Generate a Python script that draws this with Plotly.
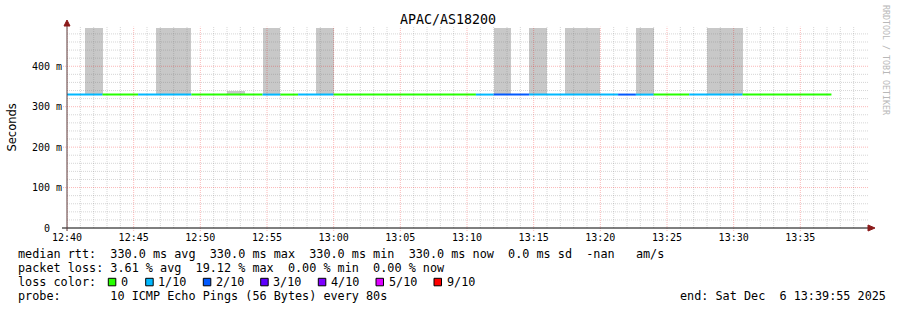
from datetime import datetime, timedelta
import plotly.graph_objects as go

# ---------------- data ----------------
START = "2025-12-06 12:40:00"
SPAN_SECONDS = 3600
STEP_SECONDS = 80

median_rtt_ms = [330.0, 330.0, 330.0, 330.0, 330.0, 330.0, 330.0, 330.0, 330.0, 330.0,
                 330.0, 330.0, 330.0, 330.0, 330.0, 330.0, 330.0, 330.0, 330.0, 330.0,
                 330.0, 330.0, 330.0, 330.0, 330.0, 330.0, 330.0, 330.0, 330.0, 330.0,
                 330.0, 330.0, 330.0, 330.0, 330.0, 330.0, 330.0, 330.0, 330.0, 330.0,
                 330.0, 330.0, 330.0]
loss_of_10 = [1, 1, 0, 0, 1, 1, 1, 0, 0, 0,
              0, 1, 0, 1, 1, 0, 0, 0, 0, 0,
              0, 0, 0, 1, 2, 2, 1, 1, 1, 1,
              1, 2, 1, 0, 0, 1, 1, 1, 0, 0,
              0, 0, 0]
smoke_min_ms = [None, 330, None, None, None, 330, 330, None, None, 330,
                None, 330, None, None, 330, None, None, None, None, None,
                None, None, None, None, 330, None, 330, None, 330, 330,
                None, None, 330, None, None, None, 330, 330, None, None,
                None, None, None]
smoke_max_ms = [None, 500, None, None, None, 500, 500, None, None, 340,
                None, 500, None, None, 500, None, None, None, None, None,
                None, None, None, None, 500, None, 500, None, 500, 500,
                None, None, 500, None, None, None, 500, 500, None, None,
                None, None, None]

x_tick_labels = ["12:40", "12:45", "12:50", "12:55", "13:00", "13:05",
                 "13:10", "13:15", "13:20", "13:25", "13:30", "13:35"]
y_tick_values = [0, 100, 200, 300, 400]
y_tick_labels = ["0\u00a0\u00a0", "100 m", "200 m", "300 m", "400 m"]

loss_thresholds = [0, 1, 2, 3, 4, 5, 9]
loss_labels = ["0", "1/10", "2/10", "3/10", "4/10", "5/10", "9/10"]
loss_colors = ["#26ff00", "#00b8ff", "#0059ff", "#5e00ff", "#7e00ff", "#dd00ff", "#ff0000"]

title_text = "APAC/AS18200"
stat_rtt = "median rtt:  330.0 ms avg  330.0 ms max  330.0 ms min  330.0 ms now  0.0 ms sd  -nan   am/s"
stat_loss = "packet loss: 3.61 % avg  19.12 % max  0.00 % min  0.00 % now"
loss_caption = "loss color:"
probe_text = "probe:       10 ICMP Echo Pings (56 Bytes) every 80s"
end_text = "end: Sat Dec  6 13:39:55 2025"
watermark = "RRDTOOL / TOBI OETIKER"

# ---------------- geometry / style ----------------
W, H = 897, 310
L, T, PW, PH = 67, 28, 800, 200
Y_MAX = 494.6
MONO = "DejaVu Sans Mono"
SMOKE = "#c8c8c8"
GRID = "rgba(120,120,120,0.3)"
MGRID = "rgba(240,0,0,0.28)"


def px(x):
    return (x - L) / PW


def py(y):
    return (T + PH - y) / PH


def nb(s):
    return s.replace(" ", "\u00a0")


t0 = datetime.strptime(START, "%Y-%m-%d %H:%M:%S")
t_end = t0 + timedelta(seconds=SPAN_SECONDS)
step_starts = [t0 + timedelta(seconds=STEP_SECONDS * i) for i in range(len(median_rtt_ms))]


def loss_color(n):
    c = loss_colors[0]
    for th, col in zip(loss_thresholds, loss_colors):
        if n >= th:
            c = col
    return c


fig = go.Figure()

# smoke
sx, sy, sb = [], [], []
for i, (lo, hi) in enumerate(zip(smoke_min_ms, smoke_max_ms)):
    if lo is not None:
        sx.append(step_starts[i])
        sb.append(lo)
        sy.append(hi - lo)
fig.add_trace(go.Bar(x=sx, y=sy, base=sb, width=STEP_SECONDS * 1000, offset=0,
                     marker=dict(color=SMOKE, line=dict(width=0)), showlegend=False,
                     hoverinfo="skip"))

# median line coloured by loss, one trace per run
runs = []
for i, v in enumerate(median_rtt_ms):
    col = loss_color(loss_of_10[i])
    if runs and runs[-1][0] == col and runs[-1][2] == i:
        runs[-1][2] = i + 1
    else:
        runs.append([col, i, i + 1])
for col, a, b in runs:
    xs = [step_starts[a] + timedelta(seconds=STEP_SECONDS * k) for k in range(b - a + 1)]
    ys = [median_rtt_ms[min(a + k, b - 1)] for k in range(b - a + 1)]
    fig.add_trace(go.Scatter(x=xs, y=ys, mode="lines", line=dict(color=col, width=2, shape="hv"),
                             showlegend=False, hoverinfo="skip"))

shapes = []
# vertical grid
for m in range(0, SPAN_SECONDS // 60):
    t = t0 + timedelta(minutes=m)
    major = (m % 5 == 0)
    shapes.append(dict(type="line", xref="x", yref="paper", x0=t, x1=t,
                       y0=py(231) if major else 0, y1=py(26.7),
                       line=dict(color=MGRID if major else GRID, width=1, dash="1px,1px"),
                       layer="above"))
# horizontal grid
for v in range(20, int(Y_MAX), 20):
    major = (v % 100 == 0)
    shapes.append(dict(type="line", xref="paper", yref="y", x0=px(63) if major else 0,
                       x1=px(868), y0=v, y1=v,
                       line=dict(color=MGRID if major else GRID, width=1, dash="1px,1px"),
                       layer="above"))
# axes
shapes.append(dict(type="line", xref="paper", yref="paper", x0=px(62), x1=px(869),
                   y0=0, y1=0, line=dict(color="#000000", width=1), layer="above"))
shapes.append(dict(type="path", xref="paper", yref="paper",
                   path=f"M {px(868)} {py(225)} L {px(875)} {py(228)} L {px(868)} {py(231)} Z",
                   fillcolor="#8b1a1a", line=dict(color="#8b1a1a", width=1), layer="above"))
shapes.append(dict(type="line", xref="paper", yref="paper", x0=0, x1=0,
                   y0=py(231), y1=py(26), line=dict(color="#5a3a3a", width=1), layer="above"))
shapes.append(dict(type="path", xref="paper", yref="paper",
                   path=f"M {px(64)} {py(26)} L {px(67)} {py(20)} L {px(70)} {py(26)} Z",
                   fillcolor="#8b1a1a", line=dict(color="#8b1a1a", width=1), layer="above"))

# loss colour squares
sq_x = [108.3, 145.7, 203.3, 260.7, 318.3, 376.0, 434.0]
for xx, col in zip(sq_x, loss_colors):
    shapes.append(dict(type="rect", xref="paper", yref="paper", x0=px(xx), x1=px(xx + 7.5),
                       y0=py(285.8), y1=py(278.3), fillcolor=col,
                       line=dict(color="#000000", width=1), layer="above"))

annotations = []


def ann(text, x, y, size, xanchor="left", color="#000000", family=MONO, angle=0, yanchor="middle"):
    annotations.append(dict(text=nb(text), x=px(x), y=py(y), xref="paper", yref="paper",
                            xanchor=xanchor, yanchor=yanchor, showarrow=False, textangle=angle,
                            font=dict(family=family, size=size, color=color)))


LS = 11.8
ann(title_text, 448, 20, 13.3, xanchor="center")
ann(stat_rtt, 16, 254, LS)
ann(stat_loss, 16, 268, LS)
ann(loss_caption, 16, 282, LS)
for xx, lab in zip(sq_x, loss_labels):
    ann(lab, xx + 10.5, 282, LS)
ann(probe_text, 16, 296, LS)
ann(end_text, 678, 296, LS)
ann("Seconds", 11, 127.5, 11.5, xanchor="center", family="DejaVu Sans", angle=-90)
ann(watermark, 886, 60, 8.3, xanchor="center", color="#b8b8b8", angle=90)

tickvals_x = [datetime.strptime(START[:11] + s, "%Y-%m-%d %H:%M") for s in x_tick_labels]

fig.update_layout(
    width=W, height=H, autosize=False,
    margin=dict(l=L, r=W - L - PW, t=T, b=H - T - PH, pad=0),
    paper_bgcolor="#ffffff", plot_bgcolor="#ffffff",
    showlegend=False, bargap=0,
    shapes=shapes, annotations=annotations,
    xaxis=dict(type="date", range=[t0, t_end], showgrid=False, zeroline=False, showline=False,
               tickvals=tickvals_x, ticktext=x_tick_labels, ticks="",
               tickfont=dict(family=MONO, size=10, color="#000000"), ticklabelstandoff=2,
               fixedrange=True),
    yaxis=dict(range=[0, Y_MAX], showgrid=False, zeroline=False, showline=False,
               tickvals=y_tick_values, ticktext=y_tick_labels, ticks="",
               tickfont=dict(family=MONO, size=10, color="#000000"), ticklabelstandoff=4,
               fixedrange=True),
)

fig.write_html("out.html")
